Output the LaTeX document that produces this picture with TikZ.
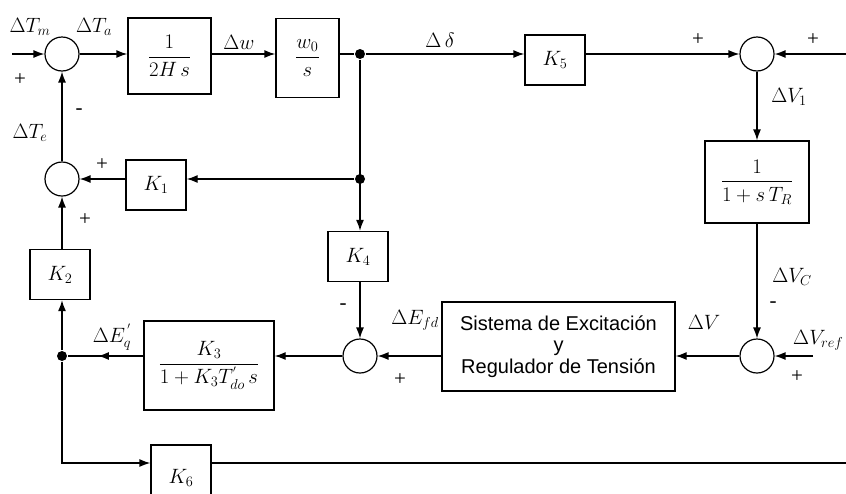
\documentclass[tikz,border=0pt]{standalone}
\usepackage{amsmath}
\usepackage{fontspec}
\setmainfont{Liberation Serif}
\newfontfamily\boxfont{Liberation Sans}
\usetikzlibrary{arrows.meta,positioning,calc,decorations.markings}

\begin{document}
\begin{tikzpicture}[x=1pt, y=-1pt, line width=1.3pt, font=\fontsize{19.5}{22}\selectfont, box/.style={draw, line width=1.3pt, align=center, inner sep=0pt, minimum width=60pt, minimum height=50pt}, sumnode/.style={draw, circle, line width=1.2pt, minimum size=34pt, inner sep=0pt}, jdot/.style={circle, fill, minimum size=10pt, inner sep=0pt}, sgn/.style={font=\fontsize{21}{21}\selectfont}, arr/.style={-{Latex[length=11pt, width=8pt]}}, midarr/.style={decoration={markings, mark=at position 0.6 with {\arrow{Latex[length=11pt, width=8pt]}}}, postaction={decorate}}]
\clip (0,0) rectangle (846,493);
% summing points
\node[sumnode] (sTm) at (62,54) {};
\node[sumnode] (sTe) at (62,179) {};
\node[sumnode] (sV1) at (757,54) {};
\node[sumnode] (sV) at (757,356) {};
\node[sumnode] (sEfd) at (360,356) {};
% blocks
\node[box, minimum width=83pt, minimum height=76pt] (gH) at (169.5,56) {$\dfrac{1}{2H\,s}$};
\node[box, minimum width=63pt, minimum height=79pt] (gW) at (307.5,58) {$\dfrac{w_0}{s}$};
\node[box] (gK5) at (555,60) {$K_5$};
\node[box, minimum width=104pt, minimum height=82pt] (gTR) at (757,182) {$\dfrac{1}{1+s\,T_R}$};
\node[box, minimum width=233pt, minimum height=89pt, font=\boxfont\fontsize{20}{21.5}\selectfont] (gExc) at (558.5,346.5) {Sistema de Excitación\\y\\Regulador de Tensión};
\node[box] (gK4) at (358,256.5) {$K_4$};
\node[box, minimum width=130pt, minimum height=89pt] (gK3) at (209,365.5) {$\dfrac{K_3}{1+K_3T^{'}_{do}\,s}$};
\node[box] (gK2) at (60,274.5) {$K_2$};
\node[box] (gK1) at (156,185) {$K_1$};
\node[box, minimum height=66pt] (gK6) at (181,478) {$K_6$};
% branch points
\node[jdot] (jD) at (360,54) {};
\node[jdot] (jK) at (360,179) {};
\node[jdot] (jE) at (62,356) {};
\coordinate (inTm) at (12,54);
\coordinate (inR) at (846,54);
\coordinate (inRef) at (813,356);
\coordinate (cK6) at (62,463);
\coordinate (outK6) at (846,463);
% forward path
\draw[arr] (inTm) -- (sTm);
\draw[arr] (sTm) -- (sTm -| gH.west);
\draw[arr] (sTm -| gH.east) -- (sTm -| gW.west);
\draw (sTm -| gW.east) -- (jD);
\draw[arr] (jD) -- (jD -| gK5.west);
\draw[arr] (jD -| gK5.east) -- (sV1);
\draw[arr] (inR) -- (sV1);
\draw[arr] (sV1) -- (gTR);
\draw[arr] (gTR) -- (sV);
\draw[arr] (inRef) -- (sV);
\draw[arr] (sV) -- (sV -| gExc.east);
\draw[arr] (sV -| gExc.west) -- (sEfd);
\draw[arr] (sEfd) -- (sEfd -| gK3.east);
\draw[midarr] (jE -| gK3.west) -- (jE);
% feedback paths
\draw[arr] (jE) -- (jE |- gK2.south);
\draw[arr] (jE |- gK2.north) -- (sTe);
\draw[arr] (sTe) -- (sTm);
\draw[arr] (jD) -- (jD |- gK4.north);
\draw[arr] (jK) -- (jK -| gK1.east);
\draw[arr] (jK -| gK1.west) -- (sTe);
\draw[arr] (jD |- gK4.south) -- (sEfd);
\draw[arr] (jE) -- (cK6) -- (cK6 -| gK6.west);
\draw (cK6 -| gK6.east) -- (outK6);
% signals
\node (lTm) at (30,27) {$\Delta T_m$};
\node (lTa) at (94,27) {$\Delta T_a$};
\node (lW) at (239,42) {$\Delta w$};
\node (lD) at (440,40) {$\Delta\,\delta$};
\node (lV1) at (789,97) {$\Delta V_1$};
\node (lVC) at (792,277) {$\Delta V_C$};
\node[anchor=east, inner sep=1pt] (lVref) at (845,340) {$\Delta V_{ref}$};
\node (lV) at (704,322) {$\Delta V$};
\node (lEfd) at (415,320) {$\Delta E_{fd}$};
\node (lEq) at (112,337) {$\Delta E^{\,'}_q$};
\node (lTe) at (30,133) {$\Delta T_e$};
% signs
\node[sgn] (pTm) at (20,80) {+};
\node[sgn] (mTe) at (79,112) {-};
\node[sgn] (pK1) at (102,165) {+};
\node[sgn] (pK2) at (85,220) {+};
\node[sgn] (pK5) at (698,40) {+};
\node[sgn] (pR) at (813,40) {+};
\node[sgn] (mVC) at (773,305) {-};
\node[sgn] (pRef) at (797,377) {+};
\node[sgn] (mK4) at (343,307) {-};
\node[sgn] (pExc) at (400,380) {+};
\end{tikzpicture}
\end{document}
